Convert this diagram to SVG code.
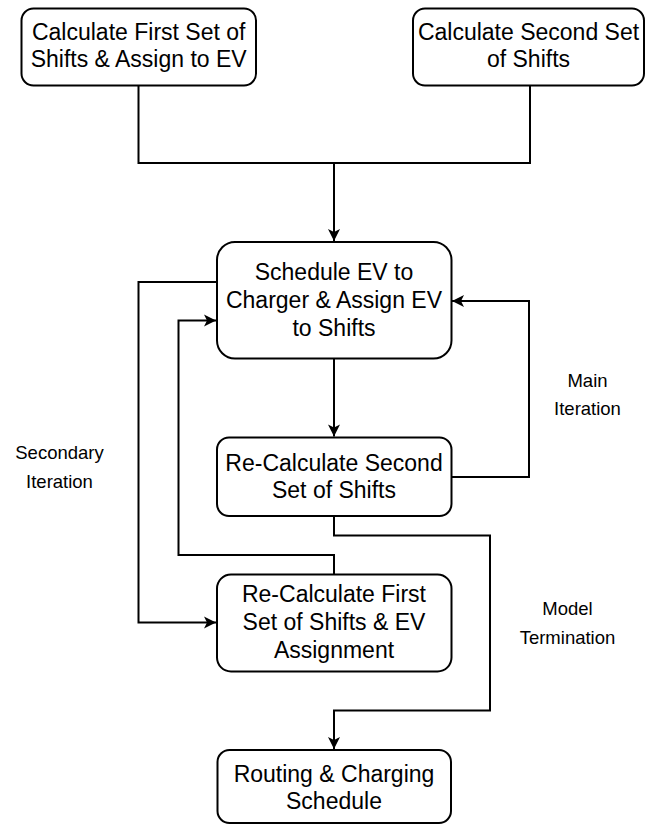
<svg xmlns="http://www.w3.org/2000/svg" width="646" height="825" viewBox="0 0 646 825">
<style>
.box{fill:#fff;stroke:#000;stroke-width:2}
.t{font-family:"Liberation Sans",Arial,sans-serif;font-size:23px;fill:#000;text-anchor:middle}
.lbl{font-family:"Liberation Sans",Arial,sans-serif;font-size:18.5px;fill:#000;text-anchor:middle}
.c{fill:none;stroke:#000;stroke-width:2}
</style>
<defs>
<marker id="arr" markerUnits="userSpaceOnUse" markerWidth="14" markerHeight="14" viewBox="0 0 14 14" refX="13" refY="7" orient="auto">
<path d="M1,1 L13,7 L1,13 L4,7 Z" fill="#000"/>
</marker>
</defs>
<rect width="646" height="825" fill="#fff"/>
<g id="connectors">
<path class="c" d="M138.5 85.5 V163 H530 V85.5"/>
<path class="c" d="M334 163 V241" marker-end="url(#arr)"/>
<path class="c" d="M334 358.5 V436.5" marker-end="url(#arr)"/>
<path class="c" d="M451.5 477 H529 V301 H452" marker-end="url(#arr)"/>
<path class="c" d="M217 282 H138.5 V622.5 H216" marker-end="url(#arr)"/>
<path class="c" d="M334 574 V555 H178.5 V320.5 H216" marker-end="url(#arr)"/>
<path class="c" d="M334 516 V535.5 H490 V710.5 H334 V749" marker-end="url(#arr)"/>
</g>
<g id="n1">
<rect class="box" x="21.5" y="8.5" width="234.5" height="77" rx="12"/>
<text class="t" x="138.7" y="39.5">Calculate First Set of</text>
<text class="t" x="138.7" y="66.5">Shifts &amp; Assign to EV</text>
</g>
<g id="n2">
<rect class="box" x="413" y="8.5" width="231" height="77" rx="12"/>
<text class="t" x="528.5" y="39.5">Calculate Second Set</text>
<text class="t" x="528.5" y="66.5">of Shifts</text>
</g>
<g id="n3">
<rect class="box" x="217" y="242" width="234.5" height="116.5" rx="18"/>
<text class="t" x="334" y="280">Schedule EV to</text>
<text class="t" x="334" y="308">Charger &amp; Assign EV</text>
<text class="t" x="334" y="336">to Shifts</text>
</g>
<g id="n4">
<rect class="box" x="217" y="437.5" width="234.5" height="78.5" rx="12"/>
<text class="t" x="334" y="470.5">Re-Calculate Second</text>
<text class="t" x="334" y="498">Set of Shifts</text>
</g>
<g id="n5">
<rect class="box" x="217" y="574.5" width="234.5" height="97" rx="14"/>
<text class="t" x="334" y="602">Re-Calculate First</text>
<text class="t" x="334" y="629.5">Set of Shifts &amp; EV</text>
<text class="t" x="334" y="657.5">Assignment</text>
</g>
<g id="n6">
<rect class="box" x="217.5" y="750" width="233.5" height="73" rx="12"/>
<text class="t" x="334" y="781.5">Routing &amp; Charging</text>
<text class="t" x="334" y="809">Schedule</text>
</g>
<g id="labels">
<text class="lbl" x="587.5" y="387">Main</text>
<text class="lbl" x="587.5" y="415">Iteration</text>
<text class="lbl" x="59.5" y="459">Secondary</text>
<text class="lbl" x="59.5" y="488">Iteration</text>
<text class="lbl" x="567.5" y="615">Model</text>
<text class="lbl" x="567.5" y="644">Termination</text>
</g>
</svg>
